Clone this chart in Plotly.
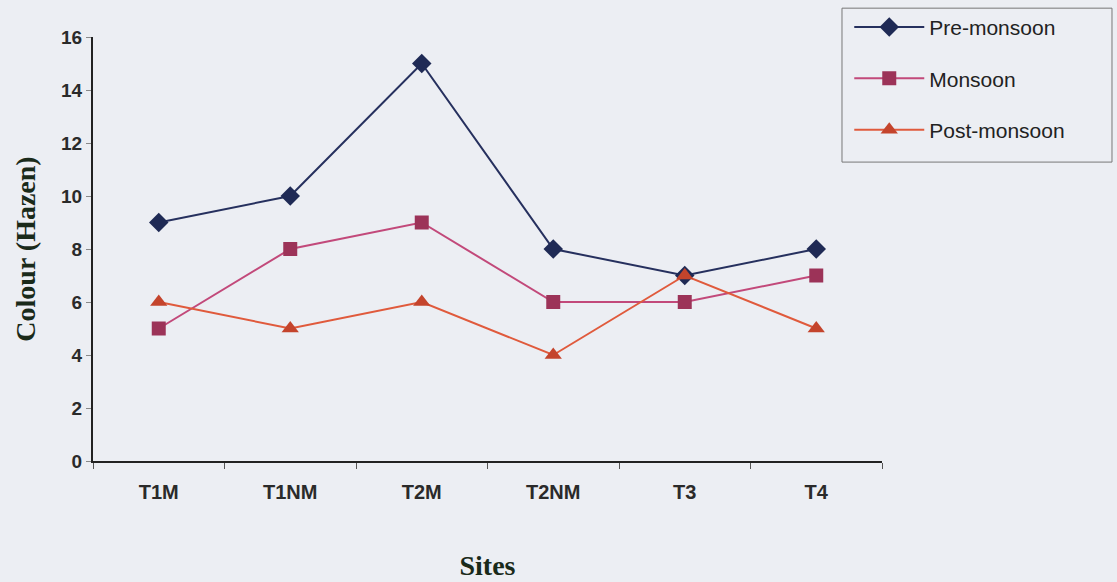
import plotly.graph_objects as go

# Colour (Hazen) by site and season
sites = ["T1M", "T1NM", "T2M", "T2NM", "T3", "T4"]
pre_monsoon = [9, 10, 15, 8, 7, 8]
monsoon = [5, 8, 9, 6, 6, 7]
post_monsoon = [6, 5, 6, 4, 7, 5]

series = [
    ("Pre-monsoon", pre_monsoon, "#26305e", "#1f2a55", "diamond", 15),
    ("Monsoon", monsoon, "#c2497a", "#9c3358", "square", 14),
    ("Post-monsoon", post_monsoon, "#e05a3c", "#c4442c", "triangle-up", 15),
]

fig = go.Figure()
for i, (name, vals, lc, mc, sym, ms) in enumerate(series):
    fig.add_trace(go.Scatter(
        x=sites, y=vals, name=name, mode="lines+markers",
        legendgroup=f"g{i}",
        line=dict(color=lc, width=2),
        marker=dict(symbol=sym, size=ms, color=mc, line=dict(width=0)),
    ))

bg = "#eceef3"
sans = "Liberation Sans, Arial"
serif = "Liberation Serif, Times New Roman"

# legend frame
fig.add_shape(type="rect", xref="paper", yref="paper",
              x0=0.9493, x1=1.2915, y0=0.705, y1=1.068,
              line=dict(color="#777777", width=1), fillcolor="rgba(0,0,0,0)")

fig.update_layout(
    width=1117, height=582,
    margin=dict(l=93, r=235, t=37, b=121, autoexpand=False),
    paper_bgcolor=bg, plot_bgcolor=bg,
    showlegend=True,
    legend=dict(
        x=0.9585, y=1.071, xanchor="left", yanchor="top",
        bgcolor="rgba(0,0,0,0)", borderwidth=0,
        font=dict(family=sans, size=21, color="#222222"),
        traceorder="grouped", tracegroupgap=21,
        itemwidth=70,
    ),
    xaxis=dict(
        type="category", range=[-0.5, 5.5], automargin=False,
        showline=True, linecolor="#222222", linewidth=2,
        ticks="outside", tickson="boundaries", ticklen=6, tickcolor="#555555",
        showgrid=False, zeroline=False,
        ticklabelstandoff=12,
        tickfont=dict(family=sans, size=20, color="#2a2a2a", weight="bold"),
        title=dict(text="<b>Sites</b>", standoff=53,
                   font=dict(family=serif, size=28, color="#1a2a1a")),
    ),
    yaxis=dict(
        range=[0, 16], dtick=2, automargin=False,
        showline=True, linecolor="#222222", linewidth=2,
        ticks="outside", ticklen=5, tickcolor="#888888",
        showgrid=False, zeroline=False,
        tickfont=dict(family=sans, size=19, color="#2a2a2a", weight="bold"),
        title=dict(text="<b>Colour (Hazen)</b>", standoff=17,
                   font=dict(family=serif, size=28, color="#1a2a1a")),
    ),
)

fig.write_html("out.html")
